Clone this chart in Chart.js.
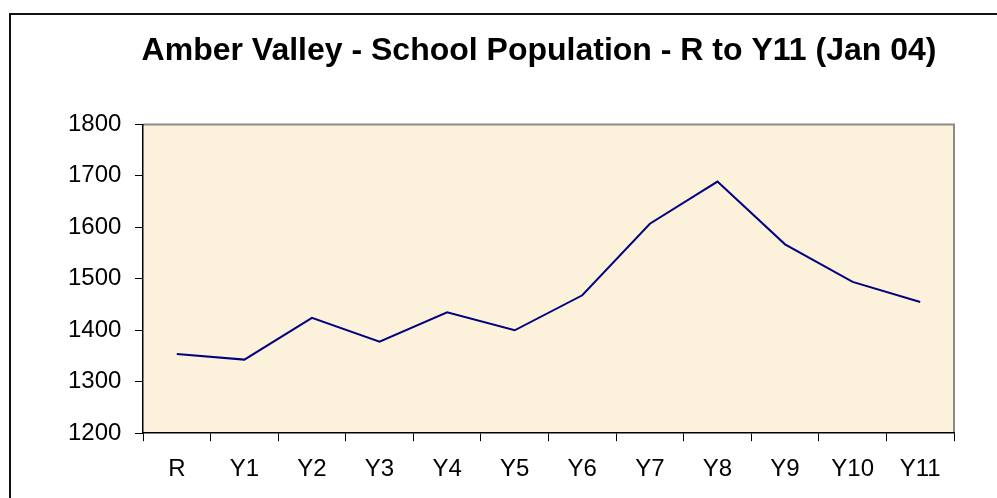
<!DOCTYPE html>
<html>
<head>
<meta charset="utf-8">
<script src="https://cdn.jsdelivr.net/npm/chart.js@4/dist/chart.umd.min.js"></script>
<style>
  html, body { margin: 0; padding: 0; background: #fff; }
  #wrap { position: relative; width: 997px; height: 498px; overflow: hidden; }
  #frame { position: absolute; left: 9px; top: 13px; width: 1100px; height: 600px; border: 2px solid #111; }
  #chart { position: absolute; left: 0; top: 0; }
</style>
</head>
<body>
<div id="wrap">
  <div id="frame"></div>
  <canvas id="chart" width="997" height="498"></canvas>
</div>
<script>
// datos del gráfico
const years = ['R', 'Y1', 'Y2', 'Y3', 'Y4', 'Y5', 'Y6', 'Y7', 'Y8', 'Y9', 'Y10', 'Y11'];
const pupils = [1354, 1343, 1424, 1378, 1435, 1400, 1468, 1607, 1689, 1567, 1494, 1455];
const yMin = 1200;
const yMax = 1800;
const yStep = 100;

const font = 'Liberation Sans, Arial, sans-serif';

// fondo crema del área del gráfico y borde gris arriba/derecha
const plotBackground = {
    id: 'plotBackground',
    beforeDraw(chart) {
        const { ctx, chartArea: a } = chart;
        ctx.save();
        ctx.fillStyle = '#fcf1db';
        ctx.fillRect(a.left, a.top, a.right - a.left, a.bottom - a.top);
        ctx.strokeStyle = '#8c8c8c';
        ctx.lineWidth = 2;
        ctx.beginPath();
        ctx.moveTo(a.left, a.top);
        ctx.lineTo(a.right, a.top);
        ctx.lineTo(a.right, a.bottom);
        ctx.stroke();
        ctx.restore();
    }
};

const ctx = document.getElementById('chart').getContext('2d');
new Chart(ctx, {
    type: 'line',
    data: {
        labels: years,
        datasets: [{
            label: 'School Population',
            data: pupils,
            borderColor: '#000080',
            borderWidth: 2,
            pointRadius: 0,
            tension: 0,
            fill: false
        }]
    },
    options: {
        responsive: false,
        animation: false,
        layout: { padding: { left: 124, right: 43, top: 32, bottom: 0 } },
        plugins: {
            legend: { display: false },
            tooltip: { enabled: false },
            title: {
                display: true,
                text: 'Amber Valley - School Population - R to Y11 (Jan 04)',
                color: '#000',
                font: { family: font, size: 32, weight: 'bold' },
                padding: { top: 0, bottom: 54 }
            }
        },
        scales: {
            x: {
                offset: true,
                grid: { offset: true, drawOnChartArea: false, drawTicks: true, tickLength: 8, color: '#000' },
                border: { color: '#000', width: 1.5 },
                ticks: { color: '#000', padding: 14, font: { family: font, size: 24 } }
            },
            y: {
                min: yMin,
                max: yMax,
                afterFit(scale) { scale.width = 19; }, // eje estrecho para centrar el título como en el original
                grid: { drawOnChartArea: false, drawTicks: true, tickLength: 8, color: '#000' },
                border: { color: '#000', width: 1.5 },
                ticks: {
                    stepSize: yStep,
                    color: '#000',
                    mirror: true,   // sin recorte; las etiquetas se llevan a la izquierda con padding negativo
                    padding: -75,
                    format: { useGrouping: false },
                    font: { family: font, size: 24 }
                }
            }
        }
    },
    plugins: [plotBackground]
});
</script>
</body>
</html>
